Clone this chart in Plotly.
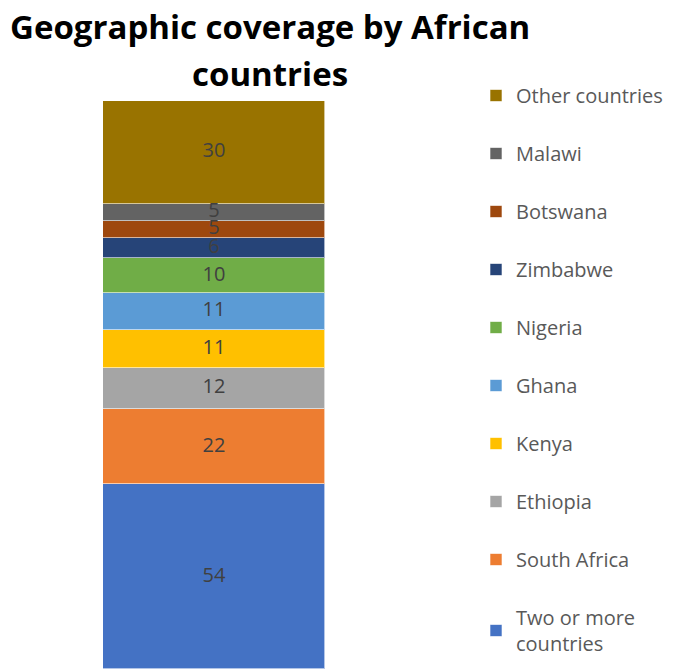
import plotly.graph_objects as go

categories = ["Two or more<br>countries", "South Africa", "Ethiopia", "Kenya", "Ghana",
              "Nigeria", "Zimbabwe", "Botswana", "Malawi", "Other countries"]
values = [54, 22, 12, 11, 11, 10, 6, 5, 5, 30]
colors = ["#4472C4", "#ED7D31", "#A5A5A5", "#FFC000", "#5B9BD5",
          "#70AD47", "#264478", "#9E480E", "#636363", "#997300"]
bar_cat = "Coverage"

# page body has an 8px margin; layout is offset to compensate
L, T, PW, PH = 95, 93, 222, 568

fig = go.Figure()
for i, (name, v, c) in enumerate(zip(categories, values, colors)):
    fig.add_trace(go.Bar(
        x=[bar_cat], y=[v], name=name, legendgroup=name,
        legendrank=1000 - i,
        marker=dict(color=c, line=dict(color="rgba(255,255,255,0.6)", width=1)),
        hoverinfo="name+y",
    ))

# value labels drawn on top of all segments
mids, acc = [], 0
for v in values:
    mids.append(acc + v / 2)
    acc += v
fig.add_trace(go.Scatter(
    x=[bar_cat] * len(values), y=mids, mode="text",
    text=[str(v) for v in values], textposition="middle center",
    textfont=dict(color="#404040", size=20, family="Open Sans"),
    showlegend=False, hoverinfo="skip",
))

title_font = dict(family="Open Sans", size=33, color="black")
fig.add_annotation(
    text="<b>Geographic coverage by African</b>",
    xref="paper", yref="paper", x=(262 - L) / PW, y=1 + (T - 18) / PH,
    xanchor="center", yanchor="middle", showarrow=False, font=title_font,
)
fig.add_annotation(
    text="<b>countries</b>",
    xref="paper", yref="paper", x=(262 - L) / PW, y=1 + (T - 65) / PH,
    xanchor="center", yanchor="middle", showarrow=False, font=title_font,
)

fig.update_layout(
    width=685, height=669,
    barmode="stack", bargap=0,
    paper_bgcolor="white", plot_bgcolor="white",
    margin=dict(l=L, r=685 - L - PW, t=T, b=669 - T - PH, autoexpand=False),
    xaxis=dict(visible=False),
    yaxis=dict(visible=False, range=[0, sum(values)]),
    legend=dict(traceorder="grouped", tracegroupgap=29,
                x=(468 - L) / PW, xanchor="left",
                y=1 + (T - 68) / PH, yanchor="top",
                maxheight=1,
                font=dict(family="Open Sans", size=20, color="#595959"),
                itemwidth=30),
    showlegend=True,
)

fig.write_html("out.html")
